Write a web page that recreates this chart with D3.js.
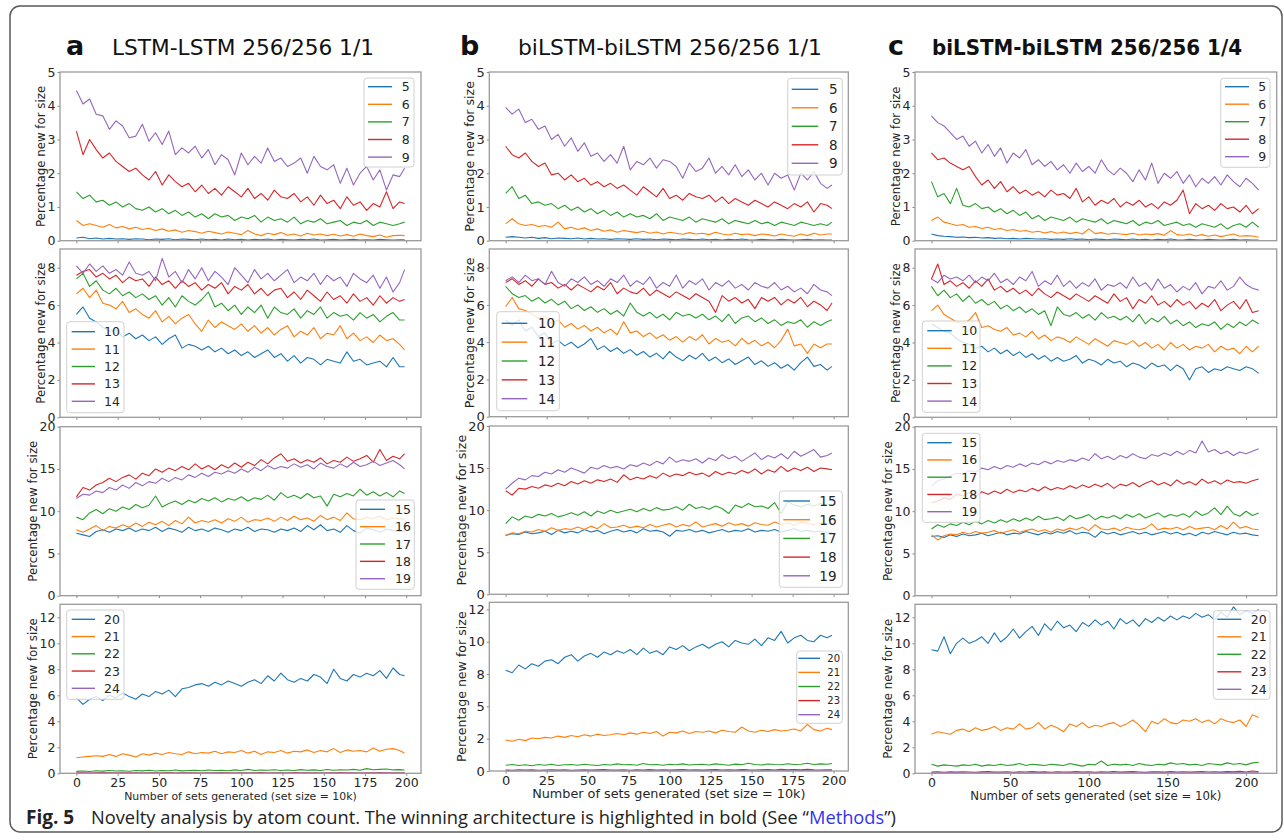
<!DOCTYPE html>
<html>

<head>
  <meta charset="utf-8">
  <script src="https://d3js.org/d3.v7.min.js"></script>
</head>
<style>
  body {
    margin: 0;
    background: #fff;
  }

  svg {
    display: block;
  }

  .frame {
    fill: none;
    stroke: #9a9a9a;
    stroke-width: 1.3px;
  }

  .tick text {
    font-family: "DejaVu Sans", sans-serif;
    fill: #262626;
  }

  .tick line {
    stroke: #8a8a8a;
  }

  .series {
    fill: none;
    stroke-width: 1.1px;
    stroke-linejoin: round;
  }

  .legend-box {
    fill: rgba(255, 255, 255, 0.8);
    stroke: #d0d0d0;
  }

  .mpl {
    font-family: "DejaVu Sans", sans-serif;
    fill: #262626;
  }
</style>

<body>
  <svg id="fig" width="1284" height="840"></svg>
  <script>
    // tab10 colours, one per atom size in a panel
    const colors = ["#1f77b4", "#ff7f0e", "#2ca02c", "#d62728", "#9467bd"];

    // x = number of sets generated
    const setsAB = d3.range(0, 200, 4).concat([199]);
    const setsC = d3.range(0, 210, 4);

    const sizeGroups = [[5, 6, 7, 8, 9], [10, 11, 12, 13, 14], [15, 16, 17, 18, 19], [20, 21, 22, 23, 24]];
    const columnTitles = ["LSTM-LSTM 256/256 1/1", "biLSTM-biLSTM 256/256 1/1", "biLSTM-biLSTM 256/256 1/4"];
    const columnLetters = ["a", "b", "c"];
    const yLabel = "Percentage new for size";
    const xLabel = "Number of sets generated (set size = 10k)";

    const yTicks = [[0, 1, 2, 3, 4, 5], [0, 2, 4, 6, 8], [0, 5, 10, 15, 20], [0, 2, 4, 6, 8, 10, 12]];
    const yTicksB4 = [0, 2.5, 5, 7.5, 10, 12.5];
    const yTickLabelsB4 = ["0", "2", "5", "8", "10", "12"];
    const xTicksAB = [0, 25, 50, 75, 100, 125, 150, 175, 200];
    const xTicksC = [0, 50, 100, 150, 200];

    // ---- column a : LSTM-LSTM 256/256 1/1 ----
    const a1_5 = [0.08, 0.1, 0.06, 0.08, 0.05, 0.07, 0.05, 0.06, 0.04, 0.06,
      0.05, 0.03, 0.05, 0.04, 0.06, 0.03, 0.05, 0.04, 0.03, 0.05,
      0.03, 0.04, 0.02, 0.05, 0.03, 0.04, 0.02, 0.04, 0.03, 0.05,
      0.02, 0.04, 0.03, 0.02, 0.04, 0.03, 0.05, 0.02, 0.03, 0.04,
      0.02, 0.03, 0.04, 0.02, 0.03, 0.02, 0.04, 0.03, 0.02, 0.03, 0.03];
    const a1_6 = [0.6, 0.45, 0.5, 0.45, 0.4, 0.48, 0.38, 0.42, 0.35, 0.4,
      0.33, 0.37, 0.3, 0.35, 0.28, 0.32, 0.25, 0.3, 0.27, 0.22,
      0.28, 0.24, 0.2, 0.26, 0.22, 0.18, 0.3, 0.2, 0.15, 0.22,
      0.18, 0.24, 0.16, 0.2, 0.14, 0.22, 0.17, 0.2, 0.15, 0.19,
      0.14, 0.18, 0.13, 0.2, 0.15, 0.12, 0.17, 0.1, 0.15, 0.16, 0.15];
    const a1_7 = [1.45, 1.25, 1.35, 1.15, 1.2, 1.05, 1.15, 1.0, 1.1, 0.95,
      0.9, 1.0, 0.85, 0.95, 0.8, 0.9, 0.75, 0.85, 0.7, 0.8,
      0.65, 0.8, 0.7, 0.75, 0.6, 0.7, 0.65, 0.75, 0.55, 0.7,
      0.6, 0.65, 0.55, 0.7, 0.5, 0.6, 0.55, 0.65, 0.5, 0.55,
      0.6, 0.45, 0.55, 0.5, 0.6, 0.45, 0.55, 0.5, 0.45, 0.5, 0.55];
    const a1_8 = [3.25, 2.55, 3.0, 2.7, 2.45, 2.6, 2.35, 2.2, 2.05, 2.15,
      1.95, 1.8, 2.05, 1.65, 1.95, 1.75, 1.6, 1.7, 1.45, 1.65,
      1.4, 1.55, 1.35, 1.6, 1.45, 1.3, 1.55, 1.25, 1.4, 1.2,
      1.5, 1.3, 1.25, 1.4, 1.15, 1.3, 1.05, 1.35, 1.1, 1.2,
      0.95, 1.3, 1.05, 1.15, 0.9, 1.1, 1.0, 1.45, 0.95, 1.15, 1.1];
    const a1_9 = [4.45, 4.05, 4.2, 3.75, 3.7, 3.3, 3.55, 3.4, 3.05, 3.1,
      3.45, 2.95, 3.2, 2.85, 3.25, 2.55, 2.75, 2.6, 2.8, 2.45,
      2.7, 2.25, 2.55, 2.4, 1.95, 2.6, 2.25, 2.5, 2.3, 2.75,
      2.35, 2.45, 2.2, 2.3, 2.45, 2.0, 2.5, 2.2, 2.1, 2.25,
      1.7, 2.15, 1.65, 2.0, 2.2, 1.8, 2.1, 1.5, 1.95, 1.9, 2.15];

    const a2_10 = [5.5, 5.9, 5.3, 5.1, 4.8, 4.6, 4.7, 4.3, 4.5, 4.2,
      4.4, 4.1, 4.3, 3.9, 4.2, 4.4, 3.7, 3.9, 3.8, 3.6,
      3.8, 3.5, 3.7, 3.4, 3.6, 3.3, 3.5, 3.2, 3.4, 3.6,
      3.2, 3.4, 3.0, 3.3, 2.9, 3.2, 3.1, 2.8, 3.1, 3.0,
      2.9, 3.5, 3.0, 3.1, 2.8, 2.9, 3.0, 2.7, 3.2, 2.7, 2.7];
    const a2_11 = [6.6, 6.9, 6.4, 6.8, 6.1, 6.0, 5.8, 6.2, 5.6, 5.8,
      5.5, 5.3, 5.7, 5.1, 5.4, 5.0, 5.3, 5.5, 5.0, 4.6,
      5.2, 4.8, 5.1, 4.9, 4.7, 5.0, 4.6, 4.9, 4.5, 4.8,
      4.4, 4.7, 4.9, 4.3, 4.6, 4.4, 4.8, 4.2, 4.5, 4.4,
      4.9, 4.2, 4.5, 4.1, 4.3, 4.0, 4.4, 4.1, 4.2, 3.9, 3.6];
    const a2_12 = [7.4, 7.7, 7.0, 7.3, 6.8, 6.6, 6.9, 6.5, 6.7, 6.4,
      6.6, 6.3, 6.5, 6.0, 6.4, 5.9, 6.5, 6.2, 6.0, 6.3,
      6.7, 5.9, 6.1, 5.7, 6.0, 5.5, 5.9, 5.6, 6.0, 5.3,
      5.9, 5.6, 5.5, 5.8, 5.3, 5.7, 5.5, 5.9, 5.3, 5.6,
      5.4, 5.5, 5.2, 5.6, 5.3, 5.5, 5.1, 5.4, 5.6, 5.2, 5.2];
    const a2_13 = [7.6, 7.8, 7.9, 7.5, 7.7, 7.4, 7.6, 7.2, 7.5, 7.3,
      7.4, 7.0, 7.5, 7.1, 7.3, 6.9, 7.3, 7.0, 7.2, 6.8,
      7.1, 6.9, 7.2, 6.6, 7.0, 6.8, 7.1, 6.6, 6.9, 6.5,
      6.8, 6.9, 6.4, 6.7, 6.3, 6.8, 6.5, 6.2, 6.7, 6.3,
      6.5, 6.1, 6.6, 6.2, 6.4, 6.0, 6.5, 6.1, 6.4, 6.2, 6.3];
    const a2_14 = [8.1, 7.7, 8.2, 7.8, 8.1, 7.7, 7.9, 7.6, 8.3, 7.7,
      7.6, 7.8, 7.3, 8.5, 7.5, 7.8, 7.2, 7.9, 7.4, 8.0,
      7.3, 7.8, 7.5, 7.1, 8.0, 7.6, 7.2, 7.9, 7.4, 7.7,
      7.3, 7.6, 7.9, 7.2, 7.5, 7.3, 7.7, 7.1, 7.6, 7.3,
      7.5, 7.0, 7.7, 7.4, 7.2, 7.6, 6.9, 7.5, 6.7, 7.2, 7.9];

    const a3_15 = [7.4, 7.2, 7.0, 7.6, 7.8, 7.5, 7.9, 7.7, 8.0, 7.6,
      7.9, 7.7, 8.1, 7.6, 8.0, 7.8, 7.5, 8.1, 7.7, 7.9,
      7.6, 8.0, 7.8, 7.5, 7.9, 7.7, 8.1, 7.6, 7.9, 7.8,
      7.5, 7.9, 7.7, 8.0, 7.6, 8.3, 7.8, 8.4, 7.7, 7.9,
      7.5, 8.3, 7.7, 7.4, 8.0, 7.8, 7.5, 7.9, 7.7, 7.6, 7.6];
    const a3_16 = [7.8, 7.5, 7.9, 8.3, 7.7, 8.2, 8.0, 8.4, 8.1, 8.6,
      8.2, 8.7, 8.4, 8.8, 8.3, 8.9, 8.5, 9.3, 8.6, 8.9,
      8.7, 9.0, 8.6, 9.1, 8.8, 9.3, 8.7, 9.0, 8.9, 9.2,
      8.8, 9.3, 8.9, 9.4, 9.0, 9.2, 8.8, 9.5, 9.0, 9.3,
      8.9, 9.8, 9.1, 9.0, 9.3, 9.1, 9.4, 9.0, 9.2, 9.1, 9.0];
    const a3_17 = [9.3, 9.0, 9.8, 10.2, 9.7, 10.3, 10.0, 10.5, 10.2, 10.8,
      10.4, 10.7, 11.8, 10.5, 10.9, 11.2, 10.8, 11.3, 11.0, 11.5,
      11.2, 11.6, 11.1, 11.5, 11.3, 11.7, 11.2, 11.6, 11.4, 11.9,
      11.3, 12.2, 11.6, 11.9, 11.5, 12.1, 11.6, 11.8, 10.6, 12.0,
      11.7, 12.1, 11.8, 12.6, 11.9, 12.3, 11.8, 12.2, 11.7, 12.4, 12.1];
    const a3_18 = [11.7, 12.8, 12.5, 13.1, 13.4, 13.9, 13.5, 14.0, 14.3, 13.8,
      14.5, 14.2, 15.0, 14.6, 15.1, 14.8, 15.3, 14.9, 15.6, 15.0,
      15.4, 14.9, 15.5, 15.1, 15.7, 15.2, 15.8, 15.4, 16.1, 15.6,
      16.3, 16.8, 15.9, 16.2, 15.7, 16.1, 15.8, 16.3, 15.6, 16.0,
      15.8, 16.4, 15.9, 16.2, 16.6, 15.8, 17.3, 16.0, 16.5, 16.2, 16.8];
    const a3_19 = [11.5, 12.0, 11.9, 12.4, 12.2, 12.8, 12.5, 13.1, 12.7, 13.4,
      13.0, 13.5, 13.3, 13.9, 13.5, 14.0, 13.7, 14.3, 14.0, 14.5,
      14.1, 14.6, 14.4, 14.8, 14.5, 15.0, 14.6, 15.2, 14.8, 15.4,
      15.0, 15.3, 15.1, 15.6, 15.2, 15.5, 15.0, 15.7, 15.3, 15.1,
      15.6, 15.2, 15.8, 15.3, 15.5, 15.9, 15.4, 15.7, 16.0, 15.5, 15.0];

    const a4_20 = [5.8, 5.3, 5.7, 5.9, 5.6, 6.0, 5.8, 6.2, 5.9, 5.7,
      6.1, 5.9, 6.3, 6.1, 6.4, 5.9, 6.5, 6.6, 6.8, 6.9,
      6.7, 7.0, 6.8, 7.1, 6.9, 6.7, 7.0, 7.2, 6.9, 7.5,
      7.1, 7.7, 7.2, 7.0, 7.3, 7.1, 7.6, 7.4, 6.9, 8.0,
      7.3, 7.1, 7.6, 7.4, 7.7, 7.5, 7.9, 7.3, 8.1, 7.6, 7.5];
    const a4_21 = [1.2, 1.25, 1.3, 1.35, 1.3, 1.45, 1.3, 1.5, 1.4, 1.25,
      1.5, 1.4, 1.55, 1.45, 1.6, 1.5, 1.45, 1.65, 1.5, 1.6,
      1.55, 1.7, 1.5, 1.65, 1.6, 1.75, 1.55, 1.7, 1.45, 1.65,
      1.6, 1.75, 1.55, 1.7, 1.65, 1.8, 1.6, 1.75, 1.65, 1.9,
      1.6, 1.8, 1.7, 1.75, 1.65, 1.95, 1.7, 1.85, 1.9, 1.75, 1.55];
    const a4_22 = [0.15, 0.18, 0.14, 0.2, 0.17, 0.22, 0.18, 0.2, 0.16, 0.22,
      0.19, 0.23, 0.18, 0.22, 0.2, 0.25, 0.19, 0.22, 0.24, 0.2,
      0.25, 0.21, 0.24, 0.2, 0.26, 0.22, 0.3, 0.21, 0.25, 0.23,
      0.27, 0.22, 0.25, 0.21, 0.28, 0.23, 0.26, 0.22, 0.29, 0.24,
      0.27, 0.25, 0.3, 0.24, 0.36, 0.27, 0.3, 0.33, 0.26, 0.28, 0.25];
    const a4_23 = [0.03, 0.04, 0.02, 0.03, 0.05, 0.03, 0.02, 0.04, 0.03, 0.04,
      0.02, 0.03, 0.04, 0.03, 0.05, 0.02, 0.03, 0.04, 0.03, 0.02,
      0.04, 0.03, 0.05, 0.03, 0.02, 0.04, 0.03, 0.03, 0.05, 0.02,
      0.03, 0.04, 0.02, 0.05, 0.03, 0.04, 0.03, 0.02, 0.04, 0.03,
      0.05, 0.03, 0.04, 0.02, 0.03, 0.04, 0.06, 0.03, 0.04, 0.03, 0.03];
    const a4_24 = [0.01, 0.02, 0.01, 0.0, 0.01, 0.02, 0.01, 0.01, 0.0, 0.02,
      0.01, 0.01, 0.02, 0.0, 0.01, 0.01, 0.02, 0.01, 0.0, 0.01,
      0.02, 0.01, 0.01, 0.0, 0.02, 0.01, 0.01, 0.02, 0.0, 0.01,
      0.01, 0.02, 0.01, 0.0, 0.01, 0.02, 0.01, 0.01, 0.02, 0.0,
      0.01, 0.02, 0.01, 0.01, 0.0, 0.02, 0.01, 0.01, 0.02, 0.01, 0.01];

    // ---- column b : biLSTM-biLSTM 256/256 1/1 ----
    const b1_5 = [0.1, 0.12, 0.1, 0.08, 0.1, 0.07, 0.09, 0.06, 0.08, 0.07,
      0.06, 0.08, 0.05, 0.07, 0.05, 0.06, 0.04, 0.06, 0.05, 0.04,
      0.06, 0.04, 0.05, 0.03, 0.05, 0.04, 0.03, 0.05, 0.04, 0.03,
      0.05, 0.03, 0.04, 0.02, 0.04, 0.03, 0.05, 0.03, 0.02, 0.04,
      0.03, 0.02, 0.04, 0.03, 0.02, 0.03, 0.04, 0.02, 0.03, 0.02, 0.02];
    const b1_6 = [0.5, 0.65, 0.5, 0.45, 0.48, 0.42, 0.45, 0.4, 0.55, 0.35,
      0.4, 0.33, 0.38, 0.3, 0.35, 0.28, 0.32, 0.25, 0.3, 0.27,
      0.24, 0.28, 0.22, 0.26, 0.2, 0.25, 0.22, 0.19, 0.24, 0.2,
      0.22, 0.18, 0.25, 0.2, 0.17, 0.22, 0.18, 0.2, 0.15, 0.2,
      0.18, 0.14, 0.2, 0.16, 0.13, 0.2, 0.15, 0.22, 0.17, 0.2, 0.2];
    const b1_7 = [1.4, 1.6, 1.25, 1.35, 1.1, 1.15, 1.05, 1.1, 0.95, 1.05,
      0.9, 1.0, 0.85, 0.95, 0.8, 0.9, 0.75, 0.85, 0.7, 0.8,
      0.7, 0.75, 0.65, 0.8, 0.6, 0.7, 0.65, 0.6, 0.7, 0.55,
      0.65, 0.6, 0.55, 0.65, 0.5, 0.6, 0.55, 0.5, 0.6, 0.5,
      0.55, 0.45, 0.55, 0.5, 0.45, 0.55, 0.5, 0.45, 0.5, 0.45, 0.55];
    const b1_8 = [2.8, 2.55, 2.45, 2.6, 2.35, 2.2, 2.3, 1.95, 2.0, 1.8,
      1.95, 1.75, 1.85, 1.65, 1.75, 1.6, 1.7, 1.55, 1.65, 1.5,
      1.35, 1.6, 1.45, 1.3, 1.55, 1.25, 1.35, 1.2, 1.4, 1.3,
      1.25, 1.35, 1.15, 1.3, 1.1, 1.25, 1.15, 1.05, 1.2, 1.1,
      1.0, 1.15, 1.05, 0.95, 1.1, 1.0, 1.15, 0.85, 1.1, 1.05, 0.95];
    const b1_9 = [3.95, 3.75, 3.9, 3.5, 3.6, 3.3, 3.4, 3.0, 3.15, 2.8,
      3.05, 2.65, 2.9, 2.5, 2.6, 2.35, 2.55, 2.3, 2.8, 2.1,
      2.35, 2.25, 2.45, 2.15, 2.4, 2.35, 2.2, 1.85, 2.3, 2.05,
      2.15, 2.45, 2.0, 2.2, 1.95, 2.25, 1.9, 2.1, 1.8, 2.0,
      1.65, 2.0, 1.85, 1.95, 1.5, 2.0, 1.8, 2.05, 1.7, 1.55, 1.65];

    const b2_10 = [5.2, 4.9, 5.2, 4.6, 4.8, 4.3, 4.5, 3.9, 4.1, 3.8,
      4.0, 3.7, 3.9, 4.2, 3.6, 3.8, 3.5, 3.7, 3.4, 3.6,
      3.3, 3.5, 3.2, 3.4, 3.1, 3.5, 3.2, 3.0, 3.3, 3.1,
      3.4, 3.0, 3.2, 2.9, 3.1, 2.8, 3.0, 3.2, 2.8, 3.0,
      2.7, 2.9, 2.6, 2.8, 2.5, 2.9, 3.2, 2.7, 2.8, 2.5, 2.7];
    const b2_11 = [5.9, 6.4, 5.8, 5.7, 5.5, 5.3, 5.4, 5.0, 5.2, 4.8,
      5.0, 4.7, 4.9, 4.6, 4.8, 4.5, 4.7, 4.4, 5.1, 4.5,
      4.6, 4.3, 4.5, 4.2, 4.4, 4.1, 4.3, 4.0, 4.3, 4.1,
      4.4, 3.9, 4.2, 4.0, 4.1, 3.8, 4.2, 3.9, 4.1, 3.8,
      4.0, 3.7, 4.1, 4.7, 3.8, 3.9, 3.4, 3.9, 3.7, 3.9, 3.9];
    const b2_12 = [7.0, 6.6, 6.4, 6.5, 6.2, 6.4, 6.1, 6.3, 6.0, 6.2,
      5.8, 6.0, 5.7, 5.9, 5.6, 5.8, 5.5, 5.7, 5.4, 6.1,
      5.6, 5.4, 5.6, 5.3, 5.5, 5.2, 5.6, 5.4, 5.5, 5.3,
      5.5, 5.2, 5.4, 5.1, 5.5, 5.0, 5.3, 5.4, 5.1, 5.3,
      5.0, 5.2, 4.9, 5.1, 5.0, 5.2, 4.8, 5.1, 4.9, 5.1, 5.2];
    const b2_13 = [7.2, 7.4, 7.1, 7.3, 7.0, 7.4, 7.1, 7.2, 6.9, 7.1,
      6.8, 7.1, 6.9, 6.7, 7.0, 6.8, 7.2, 6.6, 6.9, 6.7,
      6.6, 6.9, 6.5, 6.8, 6.6, 6.4, 6.7, 6.5, 6.3, 6.6,
      6.4, 6.2, 5.6, 6.5, 6.2, 6.4, 6.1, 6.3, 5.8, 6.4,
      6.2, 6.4, 6.0, 6.3, 6.1, 6.4, 5.9, 6.2, 6.0, 5.7, 6.1];
    const b2_14 = [7.3, 7.5, 7.2, 7.6, 7.3, 7.4, 7.1, 7.8, 7.2, 7.0,
      7.4, 7.2, 7.5, 7.1, 7.3, 7.0, 7.4, 7.2, 7.6, 7.0,
      7.3, 7.1, 7.5, 6.9, 7.2, 7.0, 7.6, 6.9, 7.3, 7.1,
      7.4, 6.8, 7.2, 7.0, 7.3, 6.9, 7.1, 6.8, 7.2, 7.0,
      6.9, 7.2, 6.8, 7.0, 6.7, 6.9, 6.6, 7.1, 6.8, 6.7, 6.5];

    const b3_15 = [7.0, 7.2, 7.1, 7.4, 7.2, 7.3, 7.5, 7.1, 7.6, 7.3,
      7.5, 7.3, 7.7, 7.4, 7.6, 7.2, 7.5, 7.7, 7.4, 7.6,
      7.3, 7.8, 7.5, 7.6, 7.4, 6.9, 7.6, 7.5, 7.7, 7.4,
      7.6, 7.3, 7.5, 7.7, 7.4, 7.6, 7.5, 7.8, 7.4, 7.6,
      7.5, 7.7, 7.4, 7.6, 7.8, 7.5, 7.6, 7.4, 7.5, 7.3, 7.3];
    const b3_16 = [7.0, 7.3, 7.2, 7.5, 7.4, 7.7, 7.5, 7.9, 7.6, 7.8,
      7.7, 8.0, 7.7, 8.1, 7.8, 8.4, 7.9, 8.0, 8.2, 7.9,
      8.1, 7.9, 8.3, 8.0, 8.2, 8.4, 8.0, 8.3, 8.1, 8.6,
      8.0, 8.2, 8.4, 8.1, 8.5, 8.2, 8.4, 8.1, 8.5, 8.3,
      8.2, 8.6, 8.3, 8.5, 8.2, 8.6, 8.4, 8.3, 8.5, 8.4, 8.4];
    const b3_17 = [8.4, 9.2, 8.8, 9.3, 9.1, 9.5, 9.3, 9.6, 9.2, 9.4,
      9.7, 9.4, 9.8, 9.3, 9.9, 9.6, 10.0, 9.7, 9.9, 10.1,
      9.8, 10.2, 9.9, 10.3, 10.0, 10.1, 10.4, 10.0, 10.7, 10.2,
      10.4, 10.1, 10.5, 10.2, 9.6, 10.6, 10.3, 10.8, 10.4, 10.5,
      10.2, 10.9, 9.6, 11.0, 10.6, 10.4, 10.7, 10.5, 10.8, 10.6, 10.7];
    const b3_18 = [12.3, 11.8, 12.6, 12.5, 12.8, 12.6, 13.0, 12.8, 13.2, 12.9,
      13.4, 13.1, 13.5, 13.2, 13.6, 13.4, 13.7, 13.3, 14.2, 13.6,
      13.9, 13.7, 14.1, 13.8, 14.4, 14.0, 14.3, 14.1, 14.5, 14.2,
      14.4, 14.0, 14.6, 14.2, 14.5, 14.3, 14.7, 14.4, 14.9, 14.3,
      14.8, 14.5, 15.2, 14.6, 15.0, 14.7, 15.1, 14.6, 15.0, 14.9, 14.8];
    const b3_19 = [12.5, 13.2, 13.8, 13.6, 14.1, 14.0, 14.5, 14.3, 14.8, 14.5,
      15.0, 14.7, 14.4, 15.1, 14.9, 15.3, 15.0, 15.2, 14.9, 15.4,
      15.2, 15.6, 15.3, 15.8, 15.5, 16.3, 15.7, 16.0, 15.8, 16.1,
      15.6, 16.2, 15.9, 16.6, 16.1, 16.4, 15.8, 16.3, 16.8, 16.0,
      16.5, 16.2, 16.7, 16.1, 17.0, 16.4, 16.8, 17.2, 16.3, 16.5, 16.8];

    const b4_20 = [7.8, 7.6, 8.2, 7.9, 8.3, 8.1, 8.5, 8.6, 8.3, 8.8,
      9.0, 8.5, 8.9, 9.1, 8.8, 9.2, 9.0, 9.3, 9.1, 9.4,
      9.0, 9.5, 9.1, 9.3, 9.0, 9.6, 9.4, 9.7, 9.3, 9.6,
      9.8, 9.5, 9.8, 10.0, 9.6, 10.1, 9.9, 9.8, 10.2, 9.7,
      10.3, 10.1, 10.8, 9.9, 10.3, 10.5, 10.1, 10.0, 10.5, 10.3, 10.5];
    const b4_21 = [2.4, 2.3, 2.45, 2.35, 2.55, 2.5, 2.6, 2.55, 2.7, 2.6,
      2.75, 2.65, 2.8, 2.7, 2.85, 2.75, 2.8, 2.9, 2.8, 2.95,
      2.85, 3.0, 2.9, 3.05, 2.7, 3.0, 2.95, 3.1, 2.9, 3.05,
      3.0, 3.1, 2.95, 3.15, 3.05, 3.0, 3.4, 3.1, 3.0, 3.15,
      3.05, 3.2, 3.1, 3.15, 3.25, 3.1, 3.6, 3.2, 3.1, 3.3, 3.2];
    const b4_22 = [0.45, 0.5, 0.42, 0.48, 0.4, 0.5, 0.45, 0.52, 0.43, 0.48,
      0.5, 0.44, 0.52, 0.47, 0.42, 0.5, 0.46, 0.55, 0.48, 0.5,
      0.45, 0.58, 0.48, 0.5, 0.44, 0.52, 0.48, 0.55, 0.46, 0.5,
      0.52, 0.47, 0.55, 0.5, 0.45, 0.53, 0.49, 0.6, 0.5, 0.47,
      0.54, 0.5, 0.48, 0.56, 0.5, 0.52, 0.6, 0.5, 0.55, 0.52, 0.58];
    const b4_23 = [0.08, 0.06, 0.1, 0.07, 0.09, 0.06, 0.08, 0.1, 0.07, 0.09,
      0.06, 0.08, 0.1, 0.07, 0.09, 0.11, 0.07, 0.08, 0.1, 0.06,
      0.09, 0.07, 0.11, 0.08, 0.1, 0.07, 0.09, 0.12, 0.08, 0.1,
      0.07, 0.09, 0.11, 0.08, 0.1, 0.07, 0.12, 0.09, 0.08, 0.1,
      0.11, 0.08, 0.13, 0.1, 0.12, 0.09, 0.14, 0.1, 0.08, 0.1, 0.09];
    const b4_24 = [0.02, 0.01, 0.02, 0.03, 0.01, 0.02, 0.02, 0.01, 0.03, 0.02,
      0.01, 0.02, 0.03, 0.02, 0.01, 0.02, 0.02, 0.03, 0.01, 0.02,
      0.03, 0.02, 0.01, 0.02, 0.03, 0.02, 0.01, 0.02, 0.02, 0.03,
      0.01, 0.02, 0.03, 0.02, 0.01, 0.02, 0.03, 0.02, 0.02, 0.01,
      0.02, 0.03, 0.02, 0.01, 0.02, 0.03, 0.02, 0.02, 0.03, 0.02, 0.02];

    // ---- column c : biLSTM-biLSTM 256/256 1/4 ----
    const c1_5 = [0.2, 0.15, 0.13, 0.12, 0.1, 0.11, 0.09, 0.1, 0.08, 0.09,
      0.07, 0.08, 0.06, 0.07, 0.05, 0.07, 0.06, 0.05, 0.06, 0.04,
      0.05, 0.04, 0.06, 0.04, 0.05, 0.03, 0.05, 0.04, 0.03, 0.05,
      0.04, 0.03, 0.05, 0.03, 0.04, 0.02, 0.04, 0.03, 0.05, 0.03,
      0.02, 0.04, 0.03, 0.02, 0.04, 0.03, 0.02, 0.03, 0.04, 0.02,
      0.03, 0.02, 0.02];
    const c1_6 = [0.6, 0.7, 0.55, 0.5, 0.45, 0.48, 0.4, 0.42, 0.36, 0.4,
      0.33, 0.36, 0.3, 0.33, 0.28, 0.3, 0.25, 0.28, 0.23, 0.27,
      0.22, 0.26, 0.21, 0.25, 0.2, 0.35, 0.21, 0.24, 0.19, 0.22,
      0.2, 0.18, 0.22, 0.17, 0.2, 0.18, 0.21, 0.16, 0.3, 0.18,
      0.16, 0.2, 0.14, 0.18, 0.13, 0.17, 0.12, 0.16, 0.2, 0.13,
      0.15, 0.14, 0.1];
    const c1_7 = [1.75, 1.3, 1.4, 1.1, 1.55, 1.05, 1.0, 1.1, 0.95, 1.0,
      0.85, 0.95, 0.8, 0.9, 0.75, 0.85, 0.65, 0.75, 0.6, 0.7,
      0.65, 0.6, 0.7, 0.55, 0.65, 0.6, 0.55, 0.65, 0.5, 0.6,
      0.55, 0.5, 0.6, 0.45, 0.55, 0.5, 0.6, 0.45, 0.5, 0.55,
      0.45, 0.5, 0.4, 0.5, 0.45, 0.4, 0.5, 0.35, 0.45, 0.5,
      0.4, 0.55, 0.4];
    const c1_8 = [2.6, 2.4, 2.45, 2.3, 2.2, 2.1, 2.2, 1.9, 1.65, 1.8,
      1.55, 1.75, 1.45, 1.6, 1.4, 1.5, 1.35, 1.45, 1.3, 1.5,
      1.35, 1.4, 1.25, 1.55, 1.15, 1.3, 1.05, 1.2, 1.1, 1.25,
      1.0, 1.15, 1.05, 1.2, 1.0, 1.1, 0.95, 1.15, 1.05, 1.2,
      1.5, 0.8, 1.1, 0.95, 1.05, 0.9, 1.1, 0.95, 1.0, 0.85,
      1.05, 0.8, 0.95];
    const c1_9 = [3.7, 3.5, 3.4, 3.2, 3.0, 3.1, 2.8, 2.95, 2.6, 2.85,
      2.5, 2.75, 2.3, 2.6, 2.45, 2.7, 2.25, 2.4, 2.2, 2.35,
      2.1, 2.25, 2.0, 2.3, 2.05, 2.2, 2.0, 2.4, 2.1, 1.95,
      2.15, 2.0, 1.75, 2.1, 1.8, 2.3, 1.7, 2.0, 1.85, 2.05,
      1.7, 1.95, 1.6, 1.85, 1.7, 1.9, 1.65, 1.95, 1.75, 1.6,
      1.85, 1.7, 1.5];

    const c2_10 = [5.0, 4.8, 4.6, 4.5, 4.2, 4.0, 3.9, 3.7, 3.8, 3.5,
      3.7, 3.4, 3.6, 3.3, 3.5, 3.2, 3.4, 3.1, 3.3, 3.0,
      3.2, 3.0, 3.1, 3.3, 2.9, 3.1, 3.0, 2.8, 3.1, 2.9,
      3.0, 2.7, 2.9, 2.8, 2.6, 2.9, 2.7, 2.8, 2.5, 2.8,
      2.6, 2.0, 2.6, 2.7, 2.4, 2.6, 2.5, 2.7, 2.6, 2.5,
      2.7, 2.6, 2.35];
    const c2_11 = [5.7, 6.0, 5.5, 5.3, 5.1, 5.0, 5.2, 5.6, 4.8, 4.9,
      4.7, 4.6, 4.8, 4.4, 4.5, 4.3, 4.6, 4.2, 4.4, 4.1,
      4.3, 4.2, 4.0, 4.3, 4.1, 3.9, 4.2, 4.0, 3.8, 4.1,
      4.0, 3.9, 4.1, 3.8, 4.0, 3.7, 3.9, 3.6, 4.0, 3.7,
      3.9, 3.6, 3.8, 3.7, 3.9, 3.5, 3.8, 3.6, 3.7, 3.4,
      3.8, 3.5, 3.8];
    const c2_12 = [7.0, 6.5, 6.8, 6.4, 6.6, 6.2, 6.5, 6.1, 6.3, 6.0,
      6.2, 5.8, 6.0, 5.7, 5.9, 5.6, 5.8, 5.5, 5.7, 4.9,
      5.9, 5.5, 5.4, 5.6, 5.3, 5.5, 5.2, 5.6, 5.3, 5.4,
      5.2, 5.4, 5.1, 5.5, 5.0, 5.3, 5.1, 5.4, 5.0, 5.2,
      4.9, 5.1, 4.8, 5.0, 4.9, 5.1, 4.7, 5.0, 4.8, 5.1,
      4.9, 5.2, 5.0];
    const c2_13 = [7.4, 8.2, 7.1, 7.3, 7.0, 7.2, 6.9, 7.3, 7.0, 7.4,
      6.8, 7.0, 6.7, 6.9, 6.6, 6.8, 6.5, 6.9, 6.6, 6.4,
      6.7, 6.5, 6.3, 6.6, 6.4, 6.2, 6.5, 6.3, 6.1, 6.6,
      6.2, 6.4, 5.8, 6.3, 6.1, 6.5, 6.0, 6.2, 5.9, 6.3,
      6.0, 6.2, 5.8, 6.1, 5.9, 6.3, 5.7, 6.0, 6.2, 5.8,
      6.3, 5.6, 5.7];
    const c2_14 = [7.4, 7.2, 7.6, 7.4, 7.5, 7.3, 7.6, 7.2, 7.5, 7.3,
      7.7, 7.2, 7.4, 7.1, 7.5, 7.3, 7.8, 7.0, 7.3, 7.1,
      7.6, 7.0, 7.3, 6.9, 7.2, 7.0, 7.4, 6.8, 7.1, 7.0,
      7.2, 6.9, 7.5, 7.0, 7.2, 6.8, 7.4, 6.9, 7.1, 6.7,
      7.0, 6.8, 7.2, 6.6, 7.0, 6.9, 7.3, 6.8, 7.0, 7.5,
      7.1, 6.9, 6.8];

    const c3_15 = [7.0, 7.1, 6.9, 7.2, 7.0, 7.3, 7.1, 7.2, 7.4, 7.1,
      7.3, 7.5, 7.2, 7.4, 7.3, 7.6, 7.4, 7.2, 7.5, 7.3,
      7.6, 7.4, 7.7, 7.3, 7.5, 7.4, 6.9, 7.6, 7.3, 7.5,
      7.2, 7.4, 7.6, 7.3, 7.5, 7.2, 7.4, 7.6, 7.3, 7.5,
      7.2, 7.4, 7.1, 7.5, 7.3, 7.6, 7.4, 7.2, 7.5, 7.3,
      7.4, 7.2, 7.1];
    const c3_16 = [7.2, 6.6, 7.1, 7.3, 7.2, 7.5, 7.3, 7.6, 7.4, 7.5,
      7.7, 7.4, 7.6, 7.8, 7.5, 7.7, 7.9, 7.6, 7.8, 7.5,
      7.9, 7.7, 8.0, 7.8, 8.1, 7.7, 8.4, 7.9, 7.8, 8.0,
      7.7, 8.1, 7.9, 7.8, 8.0, 8.5, 7.8, 8.0, 7.9, 8.1,
      7.8, 8.2, 7.9, 8.0, 8.1, 7.8, 8.3, 7.9, 8.7, 8.0,
      8.2, 7.9, 7.8];
    const c3_17 = [7.9, 8.4, 8.1, 8.5, 8.3, 8.7, 8.4, 8.8, 8.5, 8.9,
      8.6, 9.0, 8.7, 9.1, 8.8, 9.2, 8.9, 9.4, 9.0, 9.1,
      9.3, 8.9, 9.5, 9.1, 9.3, 9.6, 9.0, 9.4, 9.2, 9.5,
      9.1, 9.6, 9.3, 9.7, 9.2, 9.5, 9.8, 9.3, 9.6, 9.4,
      9.7, 9.3, 10.0, 9.5, 9.8, 10.4, 9.6, 10.6, 9.7, 9.4,
      10.0, 9.5, 9.8];
    const c3_18 = [11.0, 11.2, 11.6, 11.4, 12.0, 11.8, 12.2, 11.7, 12.3, 12.0,
      12.4, 12.1, 12.6, 12.2, 12.5, 12.3, 12.7, 12.4, 12.9, 12.5,
      12.8, 12.6, 13.0, 12.7, 13.1, 12.8, 13.2, 12.9, 13.3, 12.7,
      13.2, 13.0, 13.4, 12.9, 13.3, 13.6, 13.1, 13.4, 13.0, 13.7,
      13.2, 13.5, 13.1, 13.8, 13.3, 13.6, 13.2, 13.7, 13.4, 13.5,
      13.3, 13.6, 13.8];
    const c3_19 = [13.0, 13.6, 13.8, 14.2, 14.5, 14.4, 14.8, 14.6, 15.1, 14.9,
      15.3, 15.0, 15.4, 15.2, 15.6, 15.3, 15.7, 15.5, 15.9, 15.6,
      16.0, 15.8, 16.1, 15.9, 16.3, 16.0, 16.8, 16.2, 16.5, 16.1,
      16.6, 16.3, 16.8, 16.4, 16.2, 16.7, 16.5, 16.9, 16.6, 17.1,
      16.7, 17.2, 16.9, 18.3, 17.0, 17.3, 16.8, 17.1, 16.6, 17.0,
      16.8, 17.1, 17.4];

    const c4_20 = [9.5, 9.4, 10.5, 9.2, 10.0, 10.4, 10.0, 10.2, 10.5, 10.0,
      10.8, 10.1, 10.5, 11.1, 10.4, 10.9, 11.3, 10.6, 11.5, 11.0,
      11.7, 11.2, 11.4, 10.9, 11.6, 11.3, 11.8, 11.4, 11.7, 11.1,
      11.9, 11.5, 11.8, 11.3, 11.9, 11.6, 12.0, 11.7, 12.1, 11.8,
      12.1, 11.9, 12.3, 12.0, 12.2, 11.8, 12.4, 12.0, 12.8, 12.2,
      12.5, 12.3, 12.6];
    const c4_21 = [3.0, 3.2, 3.1, 3.0, 3.3, 3.4, 3.2, 3.5, 3.3, 3.4,
      3.6, 3.3, 3.5, 3.4, 3.8, 3.4, 3.5, 3.9, 3.4, 3.7,
      3.5, 3.2, 3.8, 3.6, 3.9, 3.5, 3.7, 3.6, 3.8, 3.9,
      3.6, 3.8, 4.1, 3.7, 3.2, 4.0, 3.8, 4.2, 3.9, 3.8,
      4.1, 4.0, 4.2, 3.9, 4.1, 3.8, 4.2, 4.0, 3.9, 4.1,
      3.6, 4.5, 4.3];
    const c4_22 = [0.7, 0.55, 0.65, 0.6, 0.55, 0.65, 0.6, 0.7, 0.55, 0.65,
      0.6, 0.7, 0.6, 0.65, 0.75, 0.6, 0.7, 0.65, 0.6, 0.7,
      0.65, 0.6, 0.75, 0.65, 0.55, 0.7, 0.65, 0.95, 0.6, 0.7,
      0.65, 0.7, 0.6, 0.75, 0.65, 0.6, 0.7, 0.65, 0.8, 0.7,
      0.75, 0.65, 0.7, 0.6, 0.75, 0.7, 0.65, 0.8, 0.7, 0.75,
      0.65, 0.8, 0.85];
    const c4_23 = [0.1, 0.12, 0.08, 0.11, 0.09, 0.12, 0.1, 0.08, 0.11, 0.13,
      0.09, 0.1, 0.12, 0.08, 0.11, 0.1, 0.13, 0.09, 0.11, 0.08,
      0.12, 0.1, 0.09, 0.13, 0.1, 0.11, 0.08, 0.12, 0.1, 0.14,
      0.09, 0.11, 0.13, 0.1, 0.08, 0.12, 0.11, 0.09, 0.13, 0.1,
      0.12, 0.09, 0.11, 0.14, 0.1, 0.12, 0.09, 0.13, 0.11, 0.15,
      0.1, 0.18, 0.12];
    const c4_24 = [0.03, 0.04, 0.02, 0.03, 0.05, 0.03, 0.02, 0.04, 0.03, 0.02,
      0.04, 0.03, 0.02, 0.03, 0.04, 0.02, 0.03, 0.05, 0.03, 0.02,
      0.03, 0.04, 0.02, 0.03, 0.04, 0.03, 0.02, 0.04, 0.03, 0.03,
      0.02, 0.04, 0.03, 0.02, 0.05, 0.03, 0.04, 0.02, 0.03, 0.04,
      0.03, 0.02, 0.04, 0.03, 0.02, 0.04, 0.03, 0.05, 0.03, 0.04,
      0.03, 0.04, 0.03];

    const panelSeries = [
      [[a1_5, a1_6, a1_7, a1_8, a1_9], [a2_10, a2_11, a2_12, a2_13, a2_14], [a3_15, a3_16, a3_17, a3_18, a3_19], [a4_20, a4_21, a4_22, a4_23, a4_24]],
      [[b1_5, b1_6, b1_7, b1_8, b1_9], [b2_10, b2_11, b2_12, b2_13, b2_14], [b3_15, b3_16, b3_17, b3_18, b3_19], [b4_20, b4_21, b4_22, b4_23, b4_24]],
      [[c1_5, c1_6, c1_7, c1_8, c1_9], [c2_10, c2_11, c2_12, c2_13, c2_14], [c3_15, c3_16, c3_17, c3_18, c3_19], [c4_20, c4_21, c4_22, c4_23, c4_24]]
    ];

    // layout of the three pasted figure columns (they were scaled slightly differently)
    const columns = [
      {
        left: 60, right: 421, sets: setsAB, xDomain: [-9.95, 208.95], xTicks: xTicksAB,
        rows: [[72, 240.7], [249, 417.3], [426.7, 595.7], [604.3, 773.3]], yMax: [5, 9, 20, 13],
        tickSize: 12.5, yLabelSize: 11.8, xLabelSize: 10.9,
        titleX: 66, textX: 112, textW: 262, bold: false,
        legends: [
          { x: 364, y: 78, w: 50, h: 89, y0: 86.7, sp: 17.6, l0: 368, l1: 392, tx: 401.7, fs: 12.5 },
          { x: 66.7, y: 321.7, w: 57.3, h: 91, y0: 331.7, sp: 17.4, l0: 71.7, l1: 95, tx: 104, fs: 12.5 },
          { x: 356, y: 500, w: 58.3, h: 89.3, y0: 509.3, sp: 17.35, l0: 360, l1: 385, tx: 395, fs: 12.5 },
          { x: 66.7, y: 610, w: 57.3, h: 89.3, y0: 619.3, sp: 17.25, l0: 71.7, l1: 95, tx: 104, fs: 12.5 }
        ]
      },
      {
        left: 489.3, right: 848.3, sets: setsAB, xDomain: [-9.95, 208.95], xTicks: xTicksAB,
        rows: [[72, 240.7], [249, 416.7], [426, 594.3], [602.3, 771]], yMax: [5, 9, 20, 13.05],
        tickSize: 13, yLabelSize: 12.6, xLabelSize: 12.8,
        titleX: 460, textX: 518, textW: 304, bold: false,
        legends: [
          { x: 787.7, y: 78.3, w: 54.6, h: 96.7, y0: 89.3, sp: 18.5, l0: 791.7, l1: 818.3, tx: 829, fs: 13.5 },
          { x: 496.7, y: 311.7, w: 62.6, h: 99, y0: 323.3, sp: 18.85, l0: 501.7, l1: 527.3, tx: 538, fs: 13.5 },
          { x: 779.3, y: 491, w: 63, h: 96.3, y0: 501, sp: 18.7, l0: 783.3, l1: 810, tx: 819.3, fs: 13.5 },
          { x: 796.7, y: 651, w: 45.6, h: 72.3, y0: 658.3, sp: 14.1, l0: 798.3, l1: 820, tx: 827.3, fs: 10 }
        ]
      },
      {
        left: 915, right: 1276.7, sets: setsC, xDomain: [-10.45, 219.45], xTicks: xTicksC,
        rows: [[72, 240.7], [249, 417.3], [426.7, 595.7], [604.3, 773.3]], yMax: [5, 9, 20, 13],
        tickSize: 12.5, yLabelSize: 11.7, xLabelSize: 11.75,
        titleX: 888, textX: 932, textW: 310, bold: true,
        legends: [
          { x: 1220.7, y: 78.3, w: 49.3, h: 89, y0: 86.7, sp: 17.5, l0: 1225, l1: 1249, tx: 1258.3, fs: 12.5 },
          { x: 922.3, y: 321, w: 57.7, h: 91.3, y0: 330.7, sp: 17.6, l0: 927.3, l1: 951.7, tx: 961.3, fs: 12.5 },
          { x: 922.3, y: 433.3, w: 57.7, h: 89, y0: 442.7, sp: 17.25, l0: 927.3, l1: 951.7, tx: 961.3, fs: 12.5 },
          { x: 1213.3, y: 610.7, w: 56.7, h: 88.6, y0: 619.3, sp: 17.5, l0: 1217.3, l1: 1241.3, tx: 1250.7, fs: 12.5 }
        ]
      }
    ];

    const svg = d3.select("#fig");

    // outer rounded border of the figure
    svg.append("rect")
      .attr("x", 10).attr("y", 6)
      .attr("width", 1272).attr("height", 826)
      .attr("rx", 10)
      .attr("fill", "none")
      .attr("stroke", "#5a5a5a")
      .attr("stroke-width", 1.5);

    columns.forEach(function (col, ci) {
      const x = d3.scaleLinear().domain(col.xDomain).range([col.left, col.right]);

      // column title
      svg.append("text")
        .attr("x", col.titleX).attr("y", 55)
        .attr("font-family", "DejaVu Sans, sans-serif")
        .attr("font-weight", "bold")
        .attr("font-size", 27)
        .attr("fill", "#111")
        .text(columnLetters[ci]);
      svg.append("text")
        .attr("x", col.textX).attr("y", 55)
        .attr("font-family", "DejaVu Sans, sans-serif")
        .attr("font-weight", col.bold ? "bold" : "normal")
        .attr("font-size", 21)
        .attr("textLength", col.textW)
        .attr("lengthAdjust", "spacingAndGlyphs")
        .attr("fill", "#111")
        .text(columnTitles[ci]);

      col.rows.forEach(function (rowBox, ri) {
        const top = rowBox[0], bottom = rowBox[1];
        const y = d3.scaleLinear().domain([0, col.yMax[ri]]).range([bottom, top]);
        const isB4 = ci === 1 && ri === 3;
        const ticks = isB4 ? yTicksB4 : yTicks[ri];

        const g = svg.append("g");

        // y axis
        const yAxis = d3.axisLeft(y)
          .tickValues(ticks)
          .tickFormat(function (d, i) { return isB4 ? yTickLabelsB4[i] : d3.format("d")(d); })
          .tickSize(2.5)
          .tickPadding(2)
          .tickSizeOuter(0);
        const yg = g.append("g")
          .attr("transform", "translate(" + col.left + ",0)")
          .call(yAxis);
        yg.select(".domain").remove();
        yg.selectAll("text").attr("font-size", col.tickSize);

        // x axis (labels only on bottom row)
        const xAxis = d3.axisBottom(x)
          .tickValues(col.xTicks)
          .tickFormat(ri === 3 ? d3.format("d") : "")
          .tickSize(2.5)
          .tickPadding(2)
          .tickSizeOuter(0);
        const xg = g.append("g")
          .attr("transform", "translate(0," + bottom + ")")
          .call(xAxis);
        xg.select(".domain").remove();
        xg.selectAll("text").attr("font-size", col.tickSize);

        // y label, placed just left of the widest tick label
        const bb = yg.node().getBBox();
        const lx = col.left + bb.x - 2.5;
        g.append("text")
          .attr("class", "mpl")
          .attr("transform", "translate(" + lx + "," + ((top + bottom) / 2) + ") rotate(-90)")
          .attr("text-anchor", "middle")
          .attr("font-size", col.yLabelSize)
          .text(yLabel);

        // series lines
        const line = d3.line()
          .x(function (d, i) { return x(col.sets[i]); })
          .y(function (d) { return y(d); })
          .defined(function (d, i) { return i < col.sets.length; });
        panelSeries[ci][ri].forEach(function (vals, si) {
          g.append("path")
            .attr("class", "series")
            .attr("stroke", colors[si])
            .attr("d", line(vals));
        });

        // frame
        g.append("rect")
          .attr("class", "frame")
          .attr("x", col.left).attr("y", top)
          .attr("width", col.right - col.left).attr("height", bottom - top);

        // legend
        const lg = col.legends[ri];
        const leg = g.append("g");
        leg.append("rect")
          .attr("class", "legend-box")
          .attr("x", lg.x).attr("y", lg.y)
          .attr("width", lg.w).attr("height", lg.h)
          .attr("rx", 3);
        sizeGroups[ri].forEach(function (size, si) {
          const yy = lg.y0 + si * lg.sp;
          leg.append("line")
            .attr("x1", lg.l0).attr("x2", lg.l1)
            .attr("y1", yy).attr("y2", yy)
            .attr("stroke", colors[si])
            .attr("stroke-width", 1.4);
          leg.append("text")
            .attr("class", "mpl")
            .attr("x", lg.tx).attr("y", yy)
            .attr("dy", "0.36em")
            .attr("font-size", lg.fs)
            .text(size);
        });

        // x label under the bottom row
        if (ri === 3) {
          g.append("text")
            .attr("class", "mpl")
            .attr("x", (col.left + col.right) / 2)
            .attr("y", bottom + 27)
            .attr("text-anchor", "middle")
            .attr("font-size", col.xLabelSize)
            .text(xLabel);
        }
      });
    });

    // figure caption
    svg.append("text")
      .attr("x", 26).attr("y", 824)
      .attr("font-family", "Open Sans, sans-serif")
      .attr("font-weight", "bold")
      .attr("font-size", 19)
      .attr("fill", "#222")
      .text("Fig. 5");
    const cap = svg.append("text")
      .attr("x", 91).attr("y", 824)
      .attr("font-family", "Open Sans, sans-serif")
      .attr("font-size", 18)
      .attr("fill", "#222")
      .attr("textLength", 805)
      .attr("lengthAdjust", "spacingAndGlyphs");
    cap.append("tspan").text("Novelty analysis by atom count. The winning architecture is highlighted in bold (See “");
    cap.append("tspan").attr("fill", "#3333ee").text("Methods");
    cap.append("tspan").text("”)");
  </script>
</body>

</html>
